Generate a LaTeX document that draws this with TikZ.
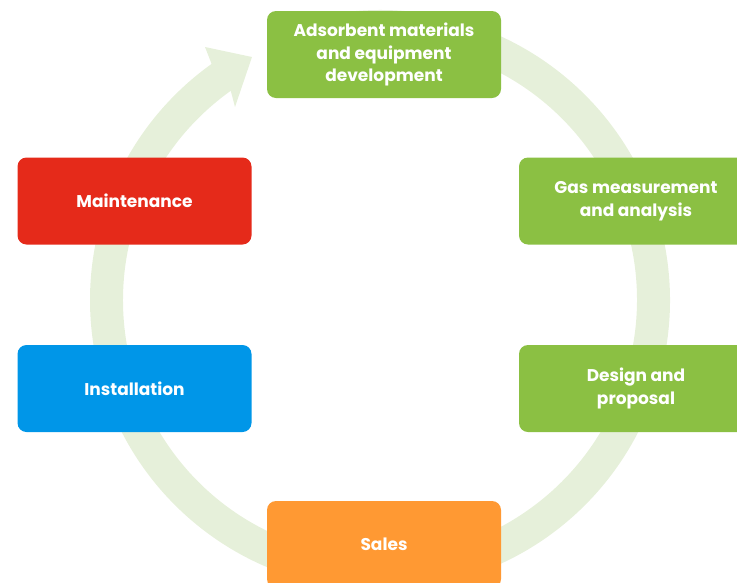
\documentclass[tikz,border=0pt]{standalone}
\usepackage{fontspec}
\setmainfont{Poppins}
\usetikzlibrary{calc}
\definecolor{ring}{HTML}{E6F0DA}
\definecolor{cgreen}{HTML}{8BC043}
\definecolor{cred}{HTML}{E52A1A}
\definecolor{cblue}{HTML}{0096E8}
\definecolor{corange}{HTML}{FF9933}
\begin{document}
\begin{tikzpicture}[x=1pt,y=-1pt,
  box/.style={rounded corners=9pt, minimum width=234pt, minimum height=87pt,
    text=white, align=center, font=\fontsize{17}{22.5}\selectfont\bfseries, inner sep=0pt}]
\useasboundingbox (0,0) rectangle (737,582);
\clip (0,0) rectangle (737,582);
\coordinate (c) at (380,300);
\fill[ring] ($(c)+(-95:290)$) arc[start angle=-95, end angle=234.5, radius=290]
  -- (205,47) -- (252,57) -- (235,107) -- ($(c)+(234.5:257)$)
  arc[start angle=234.5, end angle=-95, radius=257] -- cycle;
\node[box, fill=cgreen] (dev) at (384,54.5) {Adsorbent materials\\and equipment\\development};
\node[box, fill=cgreen] (gas) at (636,201) {Gas measurement\\and analysis};
\node[box, fill=cgreen] (design) at (636,388.5) {Design and\\proposal};
\node[box, fill=corange] (sales) at (384,544.5) {Sales};
\node[box, fill=cblue] (inst) at (134.5,388.5) {Installation};
\node[box, fill=cred] (maint) at (134.5,201) {Maintenance};
\end{tikzpicture}
\end{document}
